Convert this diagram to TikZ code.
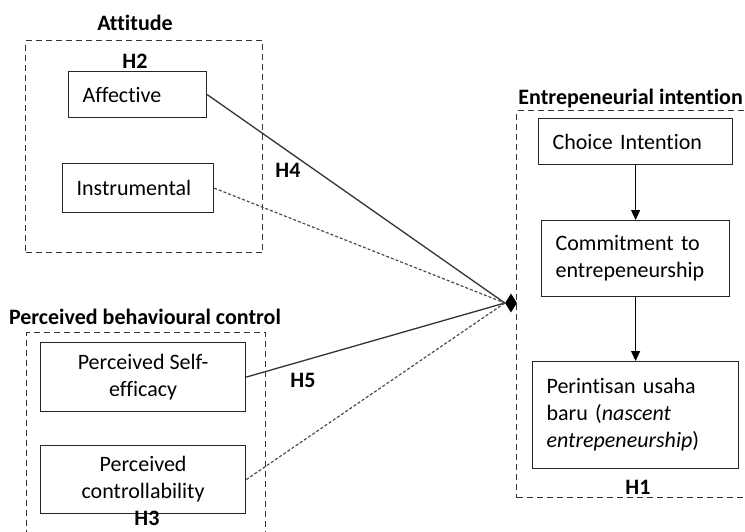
\documentclass[tikz,border=0pt]{standalone}
\usepackage{fontspec}
\setmainfont{Carlito}[Ligatures=NoCommon]
\usepackage{tikz}
\usetikzlibrary{shapes.geometric, arrows.meta, positioning}

\begin{document}
\begin{tikzpicture}[
    x=1pt, y=-1pt,
    every node/.style={font=\fontsize{22}{27}\selectfont},
    box/.style={rectangle, draw=black!85, line width=1.2pt, anchor=north west, align=left, inner xsep=14pt, inner ysep=0pt},
    cbox/.style={rectangle, draw=black!85, line width=1.2pt, anchor=north west, align=center, inner sep=0pt},
    group/.style={rectangle, draw=black!80, line width=1.1pt, dash pattern=on 6pt off 4pt, anchor=north west, inner sep=0pt},
    title/.style={font=\fontsize{22}{27}\selectfont\bfseries, anchor=base},
    hyp/.style={font=\fontsize{22}{27}\selectfont\bfseries, anchor=base, inner sep=0pt},
    link/.style={line width=1.3pt, draw=black!80},
    dotlink/.style={line width=1.2pt, draw=black!70, dash pattern=on 3pt off 2pt},
    arrow/.style={-{Triangle[length=10pt, width=9pt]}, line width=1.2pt}
]
    \useasboundingbox (0,0) rectangle (745,531);

    % Groups
    \node[group, minimum width=237pt, minimum height=212pt] (att_group) at (25,40) {};
    \node[group, minimum width=239pt, minimum height=215pt] (pbc_group) at (26,332) {};
    \node[group, minimum width=250pt, minimum height=387pt] (ei_group) at (516,110) {};

    \node[title] (att_title) at (135,30) {Attitude};
    \node[title] (pbc_title) at (145,324) {Perceived behavioural control};
    \node[title, anchor=base east, inner xsep=0pt] (ei_title) at (743,104) {Entrepeneurial intention};

    % Attitude side
    \node[box, text width=110pt, minimum height=46pt] (affective) at (68,71) {Affective};
    \node[box, text width=123pt, minimum height=49pt] (instrumental) at (62,163) {Instrumental};

    % Perceived behavioural control side
    \node[cbox, minimum width=205pt, minimum height=69pt] (self_eff) at (40,342) {Perceived Self-\\efficacy};
    \node[cbox, minimum width=205pt, minimum height=68pt] (control) at (40,445) {Perceived\\controllability};

    % Entrepeneurial intention
    \node[box, text width=166pt, minimum height=46pt] (choice) at (538,118) {Choice Intention};
    \node[box, text width=160pt, minimum height=76pt] (commit) at (541,220) {Commitment to\\entrepeneurship};
    \node[box, text width=178pt, minimum height=107pt] (nascent) at (532,361) {Perintisan usaha\\baru (\textit{nascent}\\\textit{entrepeneurship})};

    \node[diamond, fill=black, minimum width=12pt, minimum height=19pt, inner sep=0pt] (junction) at (511,303) {};

    % Hypotheses
    \node[hyp] (h2) at (135,68) {H2};
    \node[hyp] (h4) at (288,177) {H4};
    \node[hyp] (h5) at (303,387) {H5};
    \node[hyp] (h3) at (147,525) {H3};
    \node[hyp] (h1) at (638,494) {H1};

    % Arrows
    \draw[link] (affective.east) -- (junction.west);
    \draw[dotlink] (instrumental.east) -- (junction.west);
    \draw[link] (self_eff.east) -- (junction.west);
    \draw[dotlink] (control.east) -- (junction.west);

    \draw[arrow] (choice) -- (commit);
    \draw[arrow] (commit) -- (nascent);
\end{tikzpicture}
\end{document}
